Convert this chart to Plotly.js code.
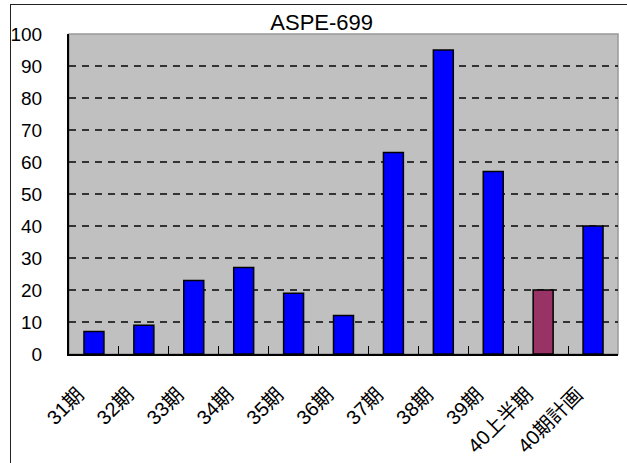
<!DOCTYPE html>
<html>
<head>
<meta charset="utf-8">
<script src="https://cdn.plot.ly/plotly-3.0.1.min.js"></script>
<style>
html,body{margin:0;padding:0;background:#fff;overflow:hidden;}
#wrap{position:relative;width:627px;height:463px;}
#chart{position:absolute;left:0;top:0;width:627px;height:463px;}
#frame{position:absolute;left:10px;top:4px;width:700px;height:600px;border:1.5px solid #222;pointer-events:none;}
</style>
</head>
<body>
<div id="wrap"><div id="chart"></div><div id="frame"></div></div>
<script>
const categories = ["31期","32期","33期","34期","35期","36期","37期","38期","39期","40上半期","40期計画"];
const values = [7, 9, 23, 27, 19, 12, 63, 95, 57, 20, 40];
const barColors = ["#0000FF","#0000FF","#0000FF","#0000FF","#0000FF","#0000FF","#0000FF","#0000FF","#0000FF","#993366","#0000FF"];
const yTicks = [0,10,20,30,40,50,60,70,80,90,100];
const chartTitle = "ASPE-699";

const fontFam = "'Liberation Sans', Arial, 'Noto Sans CJK JP', sans-serif";

const trace = {
  type: "bar",
  x: categories,
  y: values,
  marker: {color: barColors, line: {color: "#000", width: 1.5}},
  hoverinfo: "none"
};

const layout = {
  width: 627, height: 463,
  margin: {l: 69, r: 9, t: 34, b: 109, pad: 0},
  paper_bgcolor: "rgba(0,0,0,0)",
  plot_bgcolor: "#C0C0C0",
  bargap: 0.6,
  showlegend: false,
  title: {text: chartTitle, x: 0.513, xanchor: "center", y: 0.952, yanchor: "middle",
          font: {family: fontFam, size: 22, color: "#000"}},
  font: {family: fontFam, color: "#000"},
  xaxis: {
    type: "category",
    tickangle: -45,
    tickfont: {family: fontFam, size: 20, color: "#000"},
    showline: true, linecolor: "#000", linewidth: 2,
    ticks: "inside", ticklen: 8, tickcolor: "#000", tickwidth: 1,
    tickson: "boundaries",
    showgrid: false,
    ticklabelstandoff: 19,
    ticklabelshift: -16
  },
  yaxis: {
    range: [0, 100],
    tickvals: yTicks,
    tickfont: {family: fontFam, size: 19, color: "#000"},
    showline: true, linecolor: "#000", linewidth: 2,
    ticks: "",
    ticklabelstandoff: 21,
    showgrid: true, gridcolor: "#333", gridwidth: 1.3, griddash: "7px,6px",
    zeroline: false
  },
  shapes: [{
    type: "rect", xref: "paper", yref: "paper", x0: 0, x1: 1, y0: 0, y1: 1,
    line: {color: "#999", width: 1.5}, layer: "below"
  }]
};

Plotly.newPlot("chart", [trace], layout, {staticPlot: true, displayModeBar: false});
</script>
</body>
</html>
